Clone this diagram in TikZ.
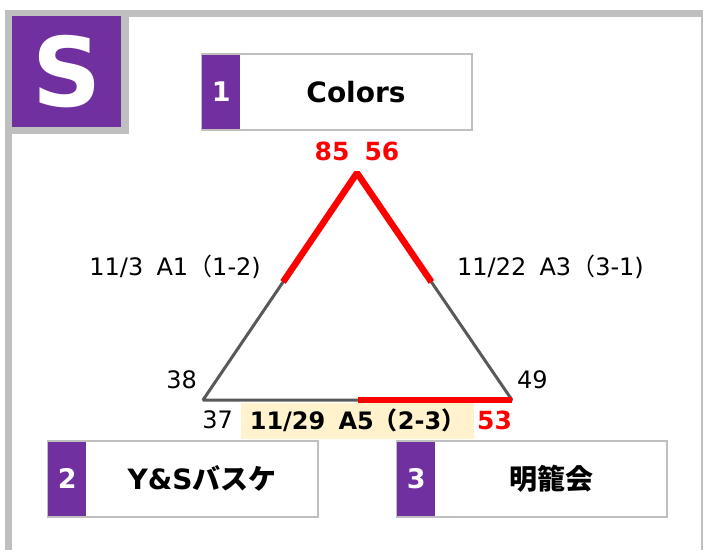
\documentclass[tikz,border=0pt]{standalone}
\usepackage{fontspec}
\setmainfont{DejaVu Sans}
\newfontfamily\jp{Noto Sans CJK JP}
\usetikzlibrary{calc}
\definecolor{purp}{HTML}{7030A0}
\definecolor{boxgray}{HTML}{BFBFBF}
\definecolor{edgegray}{HTML}{595959}
\definecolor{hlyellow}{HTML}{FFF2CC}
\newcommand{\fs}[1]{\fontsize{#1}{#1}\selectfont}

\begin{document}
\begin{tikzpicture}[x=1pt, y=-1pt]
    \tikzstyle{team}=[draw=boxgray, line width=2pt, minimum width=270pt, minimum height=76pt, inner sep=0pt]
    \tikzstyle{num}=[fill=purp, text=white, font=\fs{27}\bfseries, minimum width=38pt, minimum height=74pt, inner sep=0pt]
    \tikzstyle{teamname}=[font=\fs{28}\bfseries, inner sep=0pt]
    \tikzstyle{lbl}=[font=\fs{24}, inner sep=0pt, text height=17.5pt, text depth=0pt]
    \tikzstyle{pts}=[font=\fs{25}\bfseries, text=red, inner sep=0pt, text height=18.2pt, text depth=0pt]
    \tikzstyle{edge}=[draw=edgegray, line width=3pt, line join=bevel]
    \tikzstyle{win}=[draw=red, line width=6.5pt]

    \useasboundingbox (0,0) rectangle (703,550);
    % frame
    \fill [boxgray] (5,10) rectangle (703,16.5);
    \fill [boxgray] (5,10) rectangle (12,550);
    \draw [boxgray, line width=2pt] (701.5,16) -- (701.5,550);
    \fill [boxgray] (12,16) rectangle (129,134);
    \node [fill=purp, text=white, font=\fs{96}\bfseries, minimum width=109pt, minimum height=111pt, inner sep=0pt, anchor=north west] (logo) at (12,16) {S};

    % teams
    \foreach \n/\t/\x/\y in {1/Colors/337/92, 2/{Y\&S{\jp バスケ}}/183/478.5, 3/{{\jp 明籠会}}/532/478.5} {
    \node [team] (team-\n) at (\x,\y) {};
    \node [num, anchor=west] (num-\n) at ($(team-\n.west)+(1,0)$) {\n};
    \node [teamname] (name-\n) at (\x+19,\y) {\t};
    }

    % triangle
    \coordinate (top) at (357,173);
    \coordinate (left) at (203,400);
    \coordinate (right) at (512,400);
    \draw [edge] (top) -- (left) -- (right) -- cycle;
    \draw [win, line join=bevel] ($(top)!0.48!(left)$) -- (top) -- ($(top)!0.48!(right)$);
    \draw [win] ($(left)!0.5!(right)$) -- (right);

    % scores and matches
    \node [pts] (score-1) at (357,151) {85\hspace{0.6em}56};
    \node [lbl, anchor=east] (match-1) at (261,267) {11/3\hspace{0.55em}A1{\jp （}1-2)};
    \node [lbl, anchor=west] (match-3) at (457,267) {11/22\hspace{0.55em}A3{\jp （}3-1)};
    \node [lbl, anchor=east] (score-2a) at (197,380) {38};
    \node [lbl, anchor=west] (score-3a) at (517,380) {49};
    \node [fill=hlyellow, minimum width=233pt, minimum height=36pt, inner sep=0pt, text height=17.5pt, text depth=0pt, font=\fs{24}\bfseries] (match-2) at (357.5,421) {11/29\hspace{0.55em}A5{\jp （}2-3{\jp ）}};
    \node [lbl, anchor=east] (score-2b) at (233,420) {37};
    \node [pts, anchor=west] (score-3b) at (477,420) {53};
\end{tikzpicture}
\end{document}
